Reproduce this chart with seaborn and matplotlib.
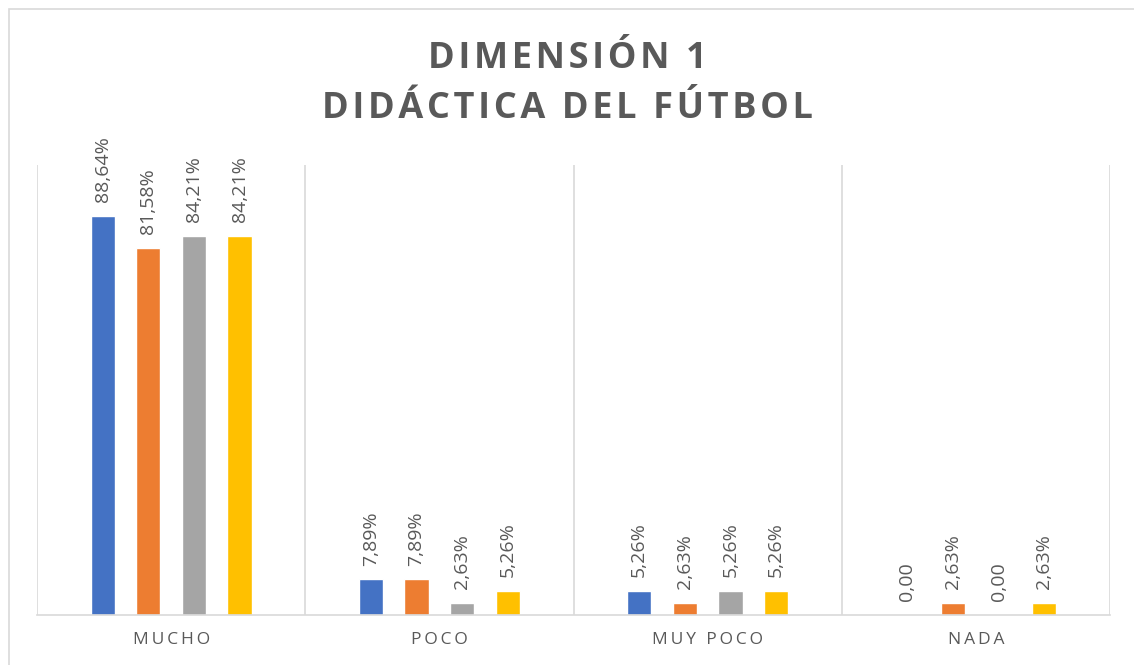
import pandas as pd
import seaborn as sns
import matplotlib.pyplot as plt
from matplotlib.patches import Rectangle

# Data
categories = ["MUCHO", "POCO", "MUY POCO", "NADA"]
series = ["S1", "S2", "S3", "S4"]
s1_values = [88.64, 7.89, 5.26, 0.00]
s2_values = [81.58, 7.89, 2.63, 2.63]
s3_values = [84.21, 2.63, 5.26, 0.00]
s4_values = [84.21, 5.26, 5.26, 2.63]
colors = ["#4472C4", "#ED7D31", "#A5A5A5", "#FFC000"]
title_lines = ["DIMENSIÓN 1", "DIDÁCTICA DEL FÚTBOL"]

# Long-form table for seaborn
rows = []
for name, vals in zip(series, [s1_values, s2_values, s3_values, s4_values]):
    for cat, v in zip(categories, vals):
        rows.append({"categoria": cat, "serie": name, "valor": v})
df = pd.DataFrame(rows)

sns.set_theme(style="white")
plt.rcParams['font.family'] = ['Open Sans', 'DejaVu Sans']

W, H = 1134, 665
fig = plt.figure(figsize=(W / 100, H / 100), dpi=100)
ax = fig.add_axes([37 / W, (H - 615) / H, (1110 - 37) / W, (615 - 165) / H])

sns.barplot(data=df, x="categoria", y="valor", hue="serie", order=categories,
            hue_order=series, palette=colors, width=0.68, gap=0.47,
            saturation=1, ax=ax, legend=False)

ax.set_ylim(0, 100)
ax.set_xlim(-0.5, len(categories) - 0.5)

# Data labels
for cont in ax.containers:
    for bar in cont:
        v = bar.get_height()
        txt = f"{v:.2f}".replace(".", ",") + ("%" if v > 0 else "")
        ax.annotate(txt, (bar.get_x() + bar.get_width() / 2, v),
                    xytext=(0, 10), textcoords="offset points",
                    rotation=90, ha="center", va="bottom",
                    fontsize=14, color="#595959")

# Category separators
for i in range(len(categories) + 1):
    ax.axvline(i - 0.5, color="#D9D9D9", lw=1.2, zorder=0)

for side in ["top", "left", "right"]:
    ax.spines[side].set_visible(False)
ax.spines["bottom"].set_color("#D9D9D9")
ax.spines["bottom"].set_linewidth(1.2)

ax.set_yticks([])
ax.set_xlabel("")
ax.set_ylabel("")
ax.set_xticks(range(len(categories)))
ax.set_xticklabels(["\u2009".join(c) for c in categories], fontsize=12.5, color="#595959")
ax.tick_params(axis="x", length=0, pad=12)

# Title with letter spacing
title = "\n".join("\u200a".join(line) for line in title_lines)
fig.text(0.5, 1 - 84 / H, title, ha="center", va="center", fontsize=26,
         fontweight="bold", color="#595959", linespacing=1.5)

# Outer chart border
fig.patches.append(Rectangle((9 / W, -0.1), 1.2, 1 - 9 / H + 0.1,
                             transform=fig.transFigure, fill=False,
                             edgecolor="#D9D9D9", lw=1.2))

fig.savefig("out.png", dpi=100, facecolor="white")
